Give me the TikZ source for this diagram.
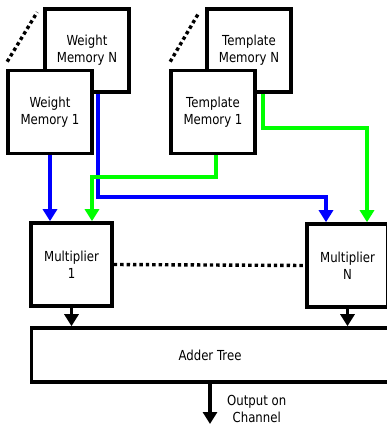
\documentclass[tikz,border=0pt]{standalone}
\usepackage{fontspec}
\setmainfont[FakeStretch=0.85]{DejaVu Sans}
\usetikzlibrary{arrows.meta}
\definecolor{wblue}{RGB}{0,0,255}
\definecolor{tgreen}{RGB}{0,255,0}
\begin{document}
\begin{tikzpicture}[x=1pt,y=-1pt,
  font=\fontsize{13.8}{17}\selectfont,
  blk/.style={draw=black,line width=3.6pt,fill=white,align=center,inner sep=0pt},
  mem/.style={blk,minimum width=84pt,minimum height=83pt},
  mult/.style={blk,minimum width=81pt,minimum height=83pt},
  link/.style={line width=3.4pt,-{Triangle[length=12pt,width=14pt]}},
  dots/.style={line width=3.4pt,dash pattern=on 3.4pt off 3pt},
]
\useasboundingbox (0,0) rectangle (386,428);

% memory banks (the bank 1 box sits in front of bank N)
\node[mem] (wmN) at (87,50.5) {Weight\\Memory N};
\node[mem] (wm1) at (50,112) {Weight\\Memory 1};
\node[mem] (tmN) at (249,50.5) {Template\\Memory N};
\node[mem] (tm1) at (213,112) {Template\\Memory 1};

% ellipsis between bank 1 and bank N
\draw[dots] ([shift={(1,-7)}]wm1.north west) -- ([shift={(-6,5)}]wmN.north west);
\draw[dots] ([shift={(1,-7)}]tm1.north west) -- ([shift={(-6,5)}]tmN.north west);

% multipliers and adder
\node[mult] (m1) at (71.5,264.5) {Multiplier\\1};
\node[mult] (mN) at (347.5,265.5) {Multiplier\\N};
\node[blk,minimum width=357pt,minimum height=54pt] (add) at (210,355) {Adder Tree};

\draw[dots] (m1.east) -- (mN.west);

% routing corners
\coordinate (wN1) at (98,197);
\coordinate (wN2) at (326,197);
\coordinate (t11) at (216,177);
\coordinate (t12) at (92,177);
\coordinate (tN1) at (263,128);
\coordinate (tN2) at (367,128);

% weight buses
\draw[link,wblue] (wm1.south) -- (wm1.south |- m1.north);
\draw[link,wblue] (wN1 |- wmN.south) -- (wN1) -- (wN2) -- (wN2 |- mN.north);

% template buses
\draw[link,tgreen] (t11 |- tm1.south) -- (t11) -- (t12) -- (t12 |- m1.north);
\draw[link,tgreen] (tN1 |- tmN.south) -- (tN1) -- (tN2) -- (tN2 |- mN.north);

% products into the adder tree
\draw[link,black] (m1.south) -- (m1.south |- add.north);
\draw[link,black] (mN.south) -- (mN.south |- add.north);

% output
\coordinate (out) at (210,424);
\draw[link,black] (add.south) -- (out);
\node[align=center,anchor=west,inner sep=0pt] (outlbl) at (227,409) {Output on\\Channel};
\end{tikzpicture}
\end{document}
